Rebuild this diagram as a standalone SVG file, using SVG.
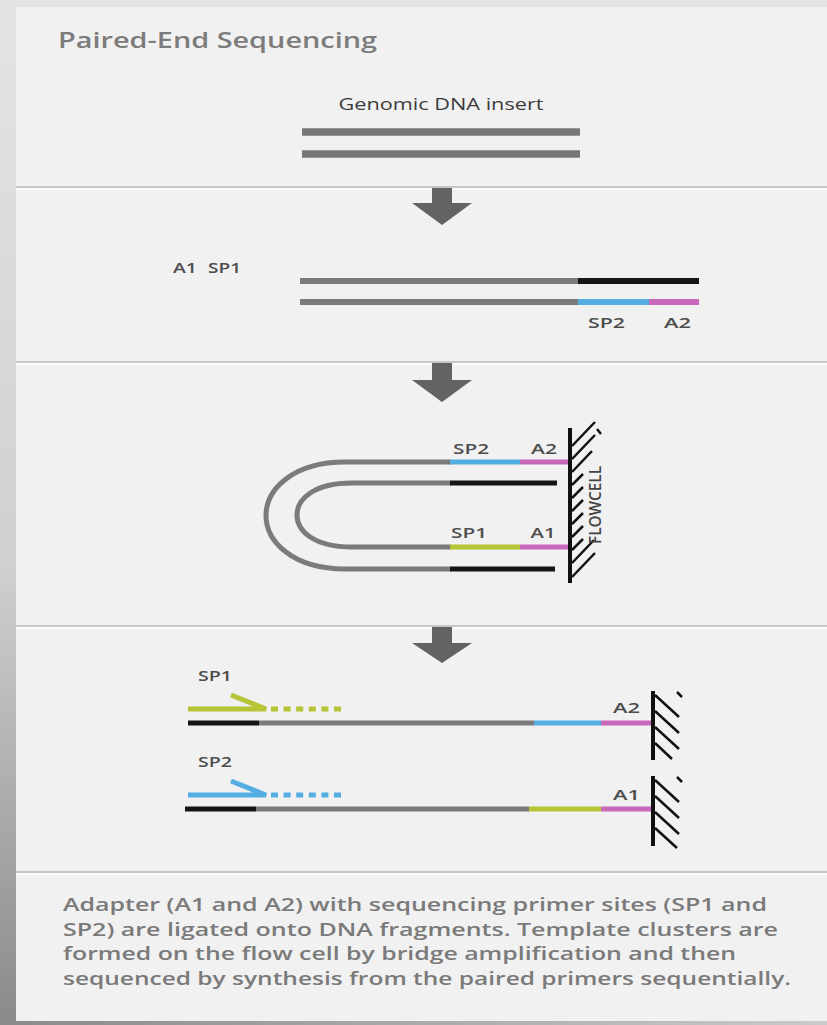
<svg xmlns="http://www.w3.org/2000/svg" width="827" height="1025" viewBox="0 0 827 1025">
<defs>
<linearGradient id="bgL" x1="0" y1="0" x2="0" y2="1">
<stop offset="0" stop-color="#e4e4e4"/>
<stop offset="0.55" stop-color="#d0d0d0"/>
<stop offset="1" stop-color="#8a8a8a"/>
</linearGradient>
<linearGradient id="bgB" x1="0" y1="0" x2="1" y2="0">
<stop offset="0" stop-color="#8a8a8a"/>
<stop offset="1" stop-color="#cacaca"/>
</linearGradient>
<style>
.lbl{font-family:"Open Sans","Liberation Sans",sans-serif;font-size:14px;font-weight:600;fill:#4d4d4d}
.title{font-family:"Open Sans","Liberation Sans",sans-serif;font-size:21px;font-weight:600;fill:#7c7c7c}
.cap{font-family:"Open Sans","Liberation Sans",sans-serif;font-size:18px;font-weight:600;fill:#7a7a7a}
.sep{stroke:#c6c6c6;stroke-width:2}
.sepw{stroke:#ffffff;stroke-width:1.5}
.st{fill:none;stroke-width:5}
.g{stroke:#7b7b7b}.k{stroke:#151515}.b{stroke:#55aee3}.m{stroke:#c868bb}.y{stroke:#b6c435}
.wall{stroke:#111;stroke-width:4;fill:none}
.hat{stroke:#111;stroke-width:2.5;fill:none}
.arr{fill:#636363}
</style>
</defs>
<rect x="0" y="0" width="827" height="1025" fill="url(#bgL)"/>
<rect x="0" y="1019" width="827" height="6" fill="url(#bgB)"/>
<rect x="16" y="7" width="811" height="1014" fill="#f1f1f1"/>

<g id="separators">
<line class="sep" x1="16" y1="187" x2="827" y2="187"/><line class="sepw" x1="16" y1="189" x2="827" y2="189"/>
<line class="sep" x1="16" y1="362" x2="827" y2="362"/><line class="sepw" x1="16" y1="364" x2="827" y2="364"/>
<line class="sep" x1="16" y1="626" x2="827" y2="626"/><line class="sepw" x1="16" y1="628" x2="827" y2="628"/>
<line class="sep" x1="16" y1="872" x2="827" y2="872"/><line class="sepw" x1="16" y1="874" x2="827" y2="874"/>
</g>

<g id="title">
<text class="title" x="58" y="48" textLength="319" lengthAdjust="spacingAndGlyphs">Paired-End Sequencing</text>
</g>

<g id="step1-insert">
<text class="lbl" x="441" y="110" text-anchor="middle" textLength="205" lengthAdjust="spacingAndGlyphs" style="font-size:15.5px;font-weight:500;fill:#3c3c3c">Genomic DNA insert</text>
<line x1="302" y1="132" x2="580" y2="132" stroke="#777" stroke-width="7.5"/>
<line x1="302" y1="154" x2="580" y2="154" stroke="#777" stroke-width="7.5"/>
</g>

<g id="connectors">
<polygon class="arr" points="432,188 452,188 452,203 472,203 442,225 412,203 432,203"/>
<polygon class="arr" points="432,363 452,363 452,380 472,380 442,402 412,380 432,380"/>
<polygon class="arr" points="432,627 452,627 452,643 472,643 442,663 412,643 432,643"/>
</g>

<g id="step2-adapters">
<text class="lbl" x="173" y="273" textLength="24" lengthAdjust="spacingAndGlyphs">A1</text>
<text class="lbl" x="208" y="273" textLength="33" lengthAdjust="spacingAndGlyphs">SP1</text>
<line class="g" x1="300" y1="281" x2="578" y2="281" stroke-width="6"/>
<line class="k" x1="578" y1="281" x2="699" y2="281" stroke-width="6"/>
<line class="g" x1="300" y1="302" x2="578" y2="302" stroke-width="6"/>
<line class="b" x1="578" y1="302" x2="649" y2="302" stroke-width="6"/>
<line class="m" x1="649" y1="302" x2="699" y2="302" stroke-width="6"/>
<text class="lbl" x="588" y="328" textLength="37" lengthAdjust="spacingAndGlyphs">SP2</text>
<text class="lbl" x="664" y="328" textLength="27" lengthAdjust="spacingAndGlyphs">A2</text>
</g>

<g id="step3-bridge">
<path class="st g" d="M451,462 H345 C292,462 266,490 266,515.5 C266,541 292,569 345,569 H451"/>
<path class="st g" d="M451,483 H352 C314,483 297,499 297,515 C297,531 314,547 352,547 H451"/>
<line class="st b" x1="450" y1="462" x2="520" y2="462"/>
<line class="st m" x1="520" y1="462" x2="569" y2="462"/>
<line class="st k" x1="450" y1="483" x2="557" y2="483"/>
<line class="st y" x1="450" y1="547" x2="520" y2="547"/>
<line class="st m" x1="520" y1="547" x2="569" y2="547"/>
<line class="st k" x1="450" y1="569" x2="555" y2="569"/>
<text class="lbl" x="471" y="454" text-anchor="middle" textLength="36" lengthAdjust="spacingAndGlyphs">SP2</text>
<text class="lbl" x="544" y="454" text-anchor="middle" textLength="26" lengthAdjust="spacingAndGlyphs">A2</text>
<text class="lbl" x="469" y="538" text-anchor="middle" textLength="36" lengthAdjust="spacingAndGlyphs">SP1</text>
<text class="lbl" x="543" y="538" text-anchor="middle" textLength="25" lengthAdjust="spacingAndGlyphs">A1</text>
</g>

<g id="flowcell">
<line class="wall" x1="570" y1="428" x2="570" y2="583"/>
<path class="hat" d="M572,446 L595,422 M572,459 L595,435 M572,472 L592,451 M572,485 L583,474 M572,498 L583,487 M572,511 L583,500 M572,524 L583,513 M572,537 L583,526 M572,550 L583,539 M572,563 L594,540 M572,577 L595,553 M597,429 L601,434"/>
<text class="lbl" transform="translate(601,505) rotate(-90)" text-anchor="middle" textLength="78" lengthAdjust="spacingAndGlyphs" style="font-size:16px;fill:#444">FLOWCELL</text>
</g>

<g id="step4-read1">
<text class="lbl" x="198" y="681" textLength="34" lengthAdjust="spacingAndGlyphs">SP1</text>
<path class="st y" d="M188,709 H266 L231,695" stroke-linejoin="miter"/>
<line class="st y" x1="271" y1="709" x2="341" y2="709" stroke-dasharray="7 5.6"/>
<line class="st k" x1="188" y1="723" x2="259" y2="723"/>
<line class="st g" x1="259" y1="723" x2="534" y2="723"/>
<line class="st b" x1="534" y1="723" x2="601" y2="723"/>
<line class="st m" x1="601" y1="723" x2="652" y2="723"/>
<text class="lbl" x="613" y="713" textLength="27" lengthAdjust="spacingAndGlyphs">A2</text>
<line class="wall" x1="653" y1="691" x2="653" y2="760"/>
<path class="hat" d="M655,695 L679,717 M655,711 L679,733 M655,727 L679,749 M655,743 L672,759 M677,692 L682,697"/>
</g>

<g id="step4-read2">
<text class="lbl" x="198" y="767" textLength="34" lengthAdjust="spacingAndGlyphs">SP2</text>
<path class="st b" d="M188,795 H266 L231,781" stroke-linejoin="miter"/>
<line class="st b" x1="271" y1="795" x2="341" y2="795" stroke-dasharray="7 5.6"/>
<line class="st k" x1="185" y1="809" x2="256" y2="809"/>
<line class="st g" x1="256" y1="809" x2="529" y2="809"/>
<line class="st y" x1="529" y1="809" x2="601" y2="809"/>
<line class="st m" x1="601" y1="809" x2="652" y2="809"/>
<text class="lbl" x="613" y="800" textLength="27" lengthAdjust="spacingAndGlyphs">A1</text>
<line class="wall" x1="653" y1="776" x2="653" y2="846"/>
<path class="hat" d="M655,780 L679,802 M655,796 L679,818 M655,812 L679,834 M655,828 L677,848 M677,777 L682,782"/>
</g>

<g id="caption">
<text class="cap" x="63" y="911" textLength="704" lengthAdjust="spacingAndGlyphs">Adapter (A1 and A2) with sequencing primer sites (SP1 and</text>
<text class="cap" x="63" y="935.5" textLength="715" lengthAdjust="spacingAndGlyphs">SP2) are ligated onto DNA fragments. Template clusters are</text>
<text class="cap" x="63" y="960" textLength="673" lengthAdjust="spacingAndGlyphs">formed on the flow cell by bridge amplification and then</text>
<text class="cap" x="63" y="984.5" textLength="728" lengthAdjust="spacingAndGlyphs">sequenced by synthesis from the paired primers sequentially.</text>
</g>
</svg>
